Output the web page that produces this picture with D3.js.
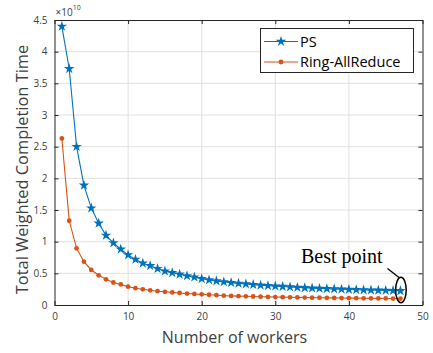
<!DOCTYPE html>
<html><head><meta charset="utf-8">
<script src="https://cdn.jsdelivr.net/npm/d3@7"></script>
<style>body{margin:0;background:#fff;} svg{display:block;}</style>
</head><body>
<svg id="c" width="433" height="353"></svg>
<script>
const workers = d3.range(1, 48);
const psValues = [4.40,3.73,2.50,1.89,1.53,1.29,1.10,0.98,0.88,0.79,0.72,0.66,0.62,0.575,0.535,0.51,0.485,0.46,0.44,0.415,0.395,0.38,0.365,0.353,0.342,0.332,0.322,0.313,0.305,0.298,0.291,0.284,0.278,0.272,0.267,0.262,0.257,0.253,0.249,0.245,0.241,0.238,0.235,0.232,0.229,0.227,0.224];
const ringValues = [2.63,1.33,0.895,0.684,0.553,0.469,0.405,0.355,0.325,0.29,0.265,0.248,0.232,0.218,0.208,0.199,0.19,0.18,0.174,0.168,0.162,0.155,0.148,0.144,0.14,0.137,0.134,0.131,0.128,0.126,0.124,0.122,0.12,0.118,0.116,0.115,0.113,0.112,0.11,0.109,0.108,0.106,0.105,0.104,0.103,0.102,0.101];
const xTicks = [0,10,20,30,40,50];
const yTicks = [0,0.5,1,1.5,2,2.5,3,3.5,4,4.5];
const seriesNames = ["PS","Ring-AllReduce"];
const colors = ["#0072BD","#D95319"];

const svg = d3.select("#c");
const L=54.5, R=422.5, T=20, B=305;
const x = d3.scaleLinear().domain([0,50]).range([L,R]);
const y = d3.scaleLinear().domain([0,4.5]).range([B,T]);
const font = "'Open Sans', sans-serif";
const axisCol = "#262626";

// grid
const g = svg.append("g");
g.selectAll(".gx").data(xTicks.slice(1,-1)).join("line")
  .attr("x1",d=>x(d)).attr("x2",d=>x(d)).attr("y1",T).attr("y2",B)
  .attr("stroke","#e0e0e0").attr("stroke-width",1);
g.selectAll(".gy").data(yTicks.slice(1,-1)).join("line")
  .attr("y1",d=>y(d)).attr("y2",d=>y(d)).attr("x1",L).attr("x2",R)
  .attr("stroke","#e0e0e0").attr("stroke-width",1);

// axes
function styleAxis(sel){
  sel.select(".domain").attr("stroke",axisCol).attr("stroke-width",1);
  sel.selectAll(".tick line").attr("stroke",axisCol);
  sel.selectAll(".tick text").attr("fill","#404040").attr("font-family",font).attr("font-size","10px");
}
const xa = svg.append("g").attr("transform",`translate(0,${B})`)
  .call(d3.axisBottom(x).tickValues(xTicks).tickSizeInner(-4).tickSizeOuter(0).tickPadding(8));
styleAxis(xa);
const xt = svg.append("g").attr("transform",`translate(0,${T})`)
  .call(d3.axisTop(x).tickValues(xTicks).tickSizeInner(-4).tickSizeOuter(0).tickFormat(""));
styleAxis(xt);
const ya = svg.append("g").attr("transform",`translate(${L},0)`)
  .call(d3.axisLeft(y).tickValues(yTicks).tickSizeInner(-4).tickSizeOuter(0).tickPadding(7).tickFormat(d=>String(d)));
styleAxis(ya);
const yr = svg.append("g").attr("transform",`translate(${R},0)`)
  .call(d3.axisRight(y).tickValues(yTicks).tickSizeInner(-4).tickSizeOuter(0).tickFormat(""));
styleAxis(yr);

// exponent
const ex = svg.append("text").attr("x",L+1).attr("y",T-4).attr("font-family",font).attr("font-size","10px").attr("fill","#404040");
ex.append("tspan").text("×10");
ex.append("tspan").attr("dy",-6).attr("font-size","7px").text("10");

// lines
const line = d3.line().x((d,i)=>x(workers[i])).y(d=>y(d));
const star = d3.symbol().type(d3.symbolStar).size(34);
const dot = d3.symbol().type(d3.symbolCircle).size(18);
[psValues, ringValues].forEach((vals,k)=>{
  svg.append("path").datum(vals).attr("d",line).attr("fill","none")
    .attr("stroke",colors[k]).attr("stroke-width",1.1);
  svg.append("g").selectAll("path").data(vals).join("path")
    .attr("transform",(d,i)=>`translate(${x(workers[i])},${y(d)})`)
    .attr("d",k===0?star():dot()).attr("fill",colors[k]);
});

// legend
const lg = svg.append("g");
lg.append("rect").attr("x",260.5).attr("y",28.5).attr("width",153).attr("height",44)
  .attr("fill","#fff").attr("stroke",axisCol).attr("stroke-width",1);
seriesNames.forEach((n,k)=>{
  const yy = 41.5 + k*20.5;
  lg.append("line").attr("x1",264).attr("x2",298).attr("y1",yy).attr("y2",yy).attr("stroke",colors[k]).attr("stroke-width",1.1);
  lg.append("path").attr("transform",`translate(281,${yy})`).attr("d",k===0?star():dot()).attr("fill",colors[k]);
  lg.append("text").attr("x",300).attr("y",yy+5).attr("font-family",font).attr("font-size","14.5px").attr("fill","#000").text(n);
});

// labels
svg.append("text").attr("x",(L+R)/2-4).attr("y",343).attr("text-anchor","middle")
  .attr("font-family",font).attr("font-size","16px").attr("fill","#404040").text("Number of workers");
svg.append("text").attr("transform",`translate(27.5,${(T+B)/2+7}) rotate(-90)`).attr("text-anchor","middle")
  .attr("font-family",font).attr("font-size","16.4px").attr("fill","#404040").text("Total Weighted Completion Time");

// annotation
svg.append("text").attr("x",301).attr("y",263).attr("font-family","'Liberation Serif', 'DejaVu Serif', serif")
  .attr("font-size","20px").attr("fill","#000").text("Best point");
svg.append("line").attr("x1",387.5).attr("y1",268.5).attr("x2",399).attr("y2",277.5).attr("stroke","#000").attr("stroke-width",1.3);
svg.append("ellipse").attr("cx",x(47)+0.5).attr("cy",290).attr("rx",5.3).attr("ry",12.7)
  .attr("fill","none").attr("stroke","#000").attr("stroke-width",1.5);
</script>
</body></html>
